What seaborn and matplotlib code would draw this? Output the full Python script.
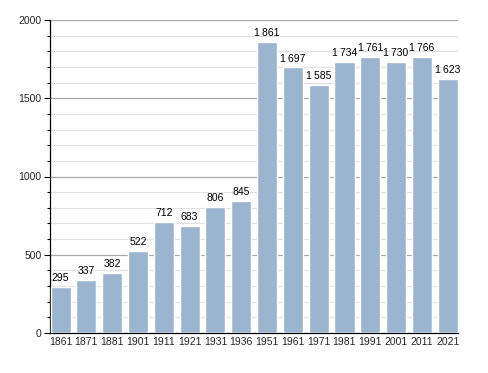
import matplotlib
matplotlib.use("Agg")
import matplotlib.pyplot as plt
import seaborn as sns
import pandas as pd
from matplotlib.ticker import MultipleLocator

years = ["1861", "1871", "1881", "1901", "1911", "1921", "1931", "1936",
         "1951", "1961", "1971", "1981", "1991", "2001", "2011", "2021"]
population = [295, 337, 382, 522, 712, 683, 806, 845,
              1861, 1697, 1585, 1734, 1761, 1730, 1766, 1623]

df = pd.DataFrame({"year": years, "pop": population})

sns.set_style("white")
plt.rcParams["font.family"] = ["Liberation Sans", "DejaVu Sans"]

fig = plt.figure(figsize=(4.88, 3.73), dpi=100)
ax = fig.add_axes([50/488, 40/373, 408/488, 313/373])

bw = 0.78
sns.barplot(data=df, x="year", y="pop", order=years, color="#9bb4cf",
            saturation=1, width=bw, ax=ax, zorder=3)

ax.set_xlim(-bw/2 - 0.02, len(years) - 1 + bw/2 + 0.01)
ax.set_ylim(0, 2000)
ax.yaxis.set_major_locator(MultipleLocator(500))
ax.yaxis.set_minor_locator(MultipleLocator(100))
ax.grid(axis="y", which="major", color="#a8a8a8", linewidth=0.9, zorder=0)
ax.grid(axis="y", which="minor", color="#e2e2e2", linewidth=0.9, zorder=0)
ax.set_axisbelow(True)

for s in ["top", "right"]:
    ax.spines[s].set_visible(False)
for s in ["left", "bottom"]:
    ax.spines[s].set_color("black")
    ax.spines[s].set_linewidth(0.9)

ax.tick_params(axis="y", which="major", length=4, width=0.8, color="black",
               labelsize=7.5, pad=2, left=True)
ax.tick_params(axis="y", which="minor", length=2.5, width=0.8, color="black", left=True)
ax.tick_params(axis="x", length=0, labelsize=7.5, pad=3)
ax.set_xlabel("")
ax.set_ylabel("")

def fmt(v):
    s = str(v)
    if len(s) > 3:
        s = s[:-3] + "\u2009" + s[-3:]
    return s

for i, v in enumerate(population):
    ax.text(i, v + 25, fmt(v), ha="center", va="bottom", fontsize=7.5, color="black")

fig.savefig("out.png", dpi=100)
